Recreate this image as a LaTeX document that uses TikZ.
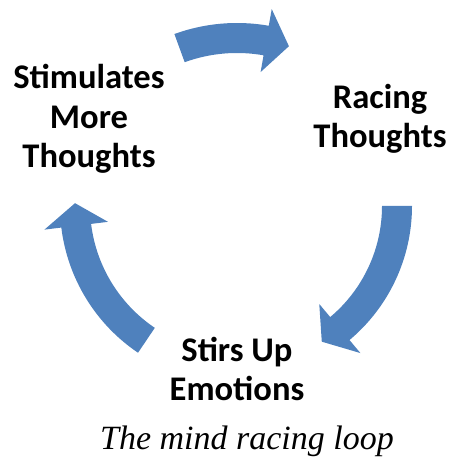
\documentclass[tikz,border=0pt]{standalone}
\usepackage{fontspec}
\setsansfont{Carlito}
\newfontfamily\captionfont{Liberation Serif}
\definecolor{loopblue}{RGB}{79,129,189}

\tikzset{
  stage/.style={font=\sffamily\bfseries\fontsize{29.5}{33.5}\selectfont, align=center, text=black},
  loop arrow/.style={fill=loopblue, draw=none},
}

\begin{document}
\begin{tikzpicture}[x=0.03cm, y=0.03cm]
\useasboundingbox (0,0) rectangle (451,460);

% the three stages
\node[stage] (stim) at (89,341) {Stimulates\\More\\Thoughts};
\node[stage] (racing) at (380,341) {Racing\\Thoughts};
\node[stage] (stirs) at (237,91) {Stirs Up\\Emotions};

% curved arrows round the loop: mid radius / tail angle / head base / tip
\begin{scope}[shift={(237,254)}]
\foreach \r/\tail/\base/\tip in {168/110/80/72, 160/0/-50/-58, 162/236/187/179} {
  \pgfmathsetmacro\ro{\r+15}
  \pgfmathsetmacro\ri{\r-15}
  \pgfmathsetmacro\ho{\r+32}
  \pgfmathsetmacro\hi{\r-32}
  \fill[loop arrow] (\tail:\ro) arc[start angle=\tail, end angle=\base, radius=\ro]
    -- (\base:\ho) -- (\tip:\r) -- (\base:\hi) -- (\base:\ri)
    arc[start angle=\base, end angle=\tail, radius=\ri] -- cycle;
}
\end{scope}

% caption
\node[font=\captionfont\itshape\fontsize{29}{32}\selectfont, anchor=base] (caption) at (247,10) {The mind racing loop};

\end{tikzpicture}
\end{document}
